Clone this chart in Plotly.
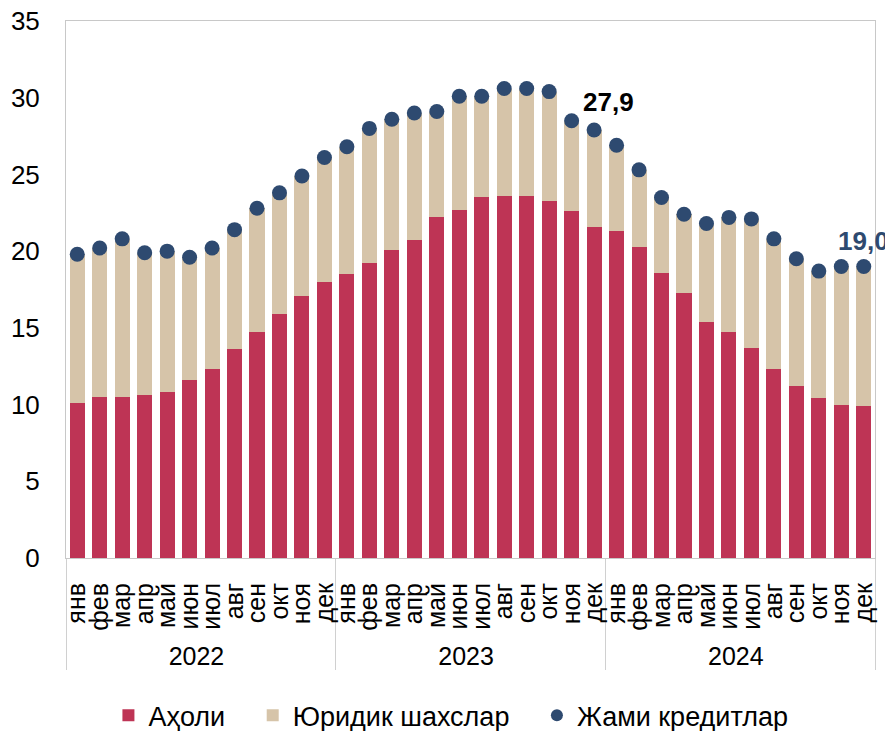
import plotly.graph_objects as go

years = ["2022", "2023", "2024"]
months = ["янв", "фев", "мар", "апр", "май", "июн", "июл", "авг", "сен", "окт", "ноя", "дек"]

# Аҳоли (population)
population = [10.1, 10.5, 10.5, 10.6, 10.8, 11.6, 12.3, 13.6, 14.7, 15.9, 17.1, 18.0,
              18.5, 19.2, 20.1, 20.7, 22.2, 22.7, 23.5, 23.6, 23.6, 23.3, 22.6, 21.6,
              21.3, 20.3, 18.6, 17.3, 15.4, 14.7, 13.7, 12.3, 11.2, 10.4, 10.0, 9.9]
# Жами кредитлар (total)
total = [19.8, 20.2, 20.8, 19.9, 20.0, 19.6, 20.2, 21.4, 22.8, 23.8, 24.9, 26.1,
         26.8, 28.0, 28.6, 29.0, 29.1, 30.1, 30.1, 30.6, 30.6, 30.4, 28.5, 27.9,
         26.9, 25.3, 23.5, 22.4, 21.8, 22.2, 22.1, 20.8, 19.5, 18.7, 19.0, 19.0]
# Юридик шахслар (legal entities) = total - population
legal = [round(t - p, 2) for t, p in zip(total, population)]

x_years = [y for y in years for _ in months]
x_months = [m for _ in years for m in months]
x = [x_years, x_months]

RED = "#BE3455"
BEIGE = "#D6C4A9"
NAVY = "#2E4A70"
FONT = "Liberation Sans, Arial, sans-serif"
PAD = "\u00a0\u00a0\u00a0"

fig = go.Figure()
fig.add_trace(go.Bar(x=x, y=population, name="Аҳоли" + PAD, marker_color=RED,
                     marker_line_width=0))
fig.add_trace(go.Bar(x=x, y=legal, name="Юридик шахслар" + PAD, marker_color=BEIGE,
                     marker_line_width=0))
fig.add_trace(go.Scatter(x=x, y=total, name="Жами кредитлар", mode="markers",
                         marker=dict(color=NAVY, size=15)))

# labels for highlighted points
i1 = x_years.index("2023") + months.index("дек")
i2 = len(total) - 1
fig.add_annotation(x=i1, y=total[i1], text="<b>27,9</b>", showarrow=False,
                   xshift=14, yshift=28, font=dict(size=26, color="black", family=FONT))
fig.add_annotation(x=i2, y=total[i2], text="<b>19,0</b>", showarrow=False,
                   xshift=0, yshift=25, font=dict(size=26, color=NAVY, family=FONT))

fig.update_layout(
    barmode="stack",
    bargap=0.33,
    width=893, height=731,
    margin=dict(l=58, r=26, t=13, b=181),
    plot_bgcolor="white", paper_bgcolor="white",
    font=dict(family=FONT, size=26, color="black"),
    legend=dict(orientation="h", xref="container", yref="container",
                x=0.496, xanchor="center", y=0.032, yanchor="middle",
                font=dict(size=27), itemsizing="constant", traceorder="normal"),
    showlegend=True,
)
fig.update_yaxes(range=[0, 35], dtick=5, showgrid=False, zeroline=False,
                 showline=True, linecolor="#C8C8C8", linewidth=1, mirror=True,
                 ticks="", tickfont=dict(size=26), automargin=False,
                 ticklabelstandoff=20, ticklabeloverflow="allow")
fig.update_xaxes(type="multicategory", tickangle=-90, showgrid=False,
                 range=[-0.5, len(total) - 0.5], dtick=1, nticks=100,
                 showline=True, linecolor="#C8C8C8", linewidth=1, mirror=True,
                 ticks="", showdividers=True, dividercolor="#D0D0D0", dividerwidth=1,
                 tickfont=dict(size=25), automargin=False, ticklabelstandoff=14)

fig.write_html("out.html")
